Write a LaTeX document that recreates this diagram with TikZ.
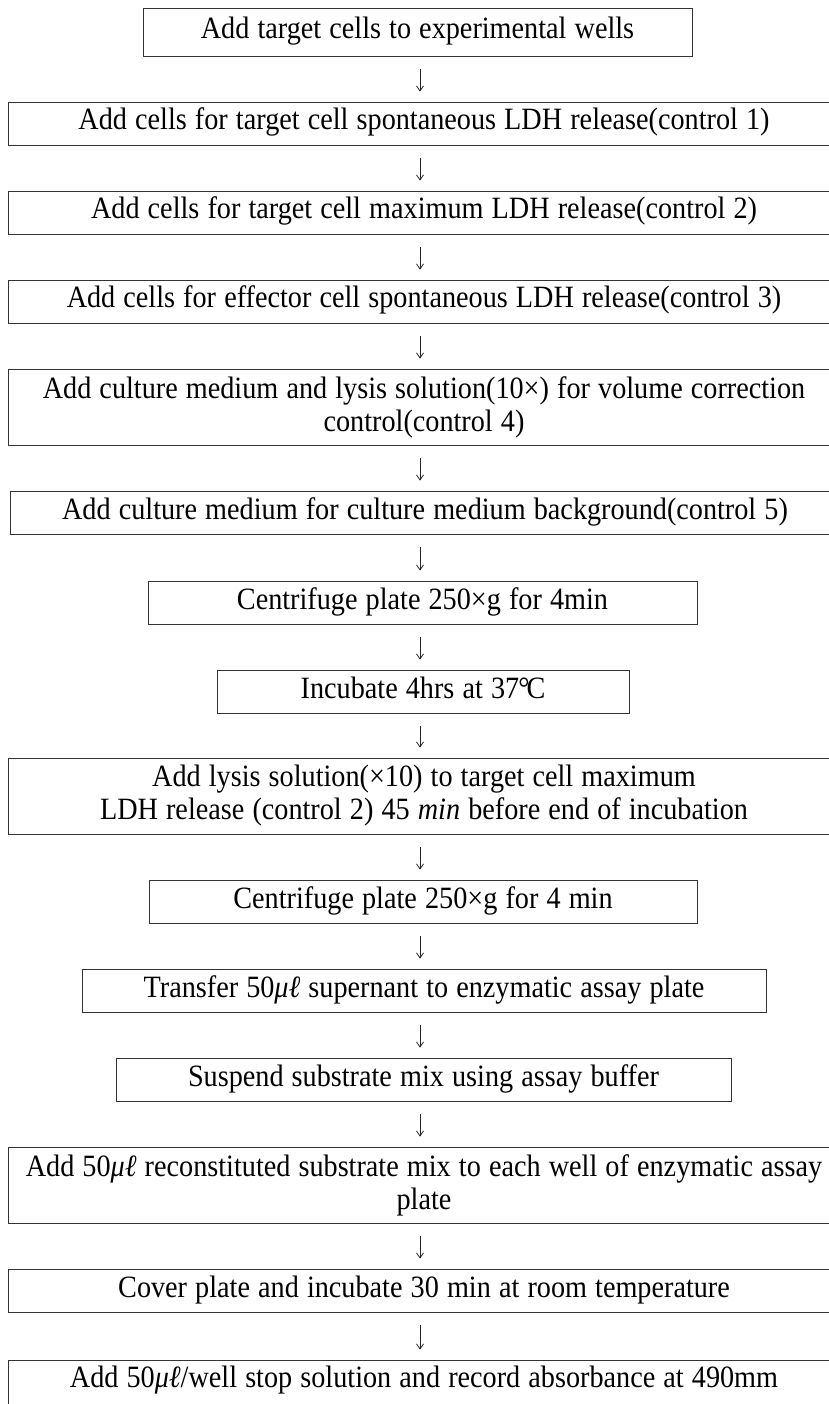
\documentclass[tikz,border=0pt]{standalone}
\usepackage{fontspec}
\setmainfont[FakeStretch=0.91,WordSpace=1.15]{Liberation Serif}
\usetikzlibrary{arrows.meta}
\tikzset{
  box/.style={draw=black!80, line width=0.8pt, inner sep=0pt, align=center,
    font=\fontsize{31}{33}\selectfont},
  one/.style={text height=21pt, text depth=8pt},
  flow/.style={draw=black!85, line width=0.8pt, -{Straight Barb[length=5pt,width=7pt]},
    shorten <=13pt, shorten >=10pt}
}
\begin{document}
\begin{tikzpicture}[x=1pt,y=-1pt]
\useasboundingbox (0,0) rectangle (828,1404);
\fill[white] (0,0) rectangle (828,1404);
\coordinate (ax) at (420,0);
\node[box,one,minimum width=549pt,minimum height=48pt] (b1) at (417.5,32) {Add target cells to experimental wells};
\node[box,one,minimum width=832pt,minimum height=43pt] (b2) at (424,123.5) {Add cells for target cell spontaneous LDH release(control 1)};
\node[box,one,minimum width=832pt,minimum height=43pt] (b3) at (424,212.5) {Add cells for target cell maximum LDH release(control 2)};
\node[box,one,minimum width=832pt,minimum height=43pt] (b4) at (424,301.5) {Add cells for effector cell spontaneous LDH release(control 3)};
\node[box,minimum width=832pt,minimum height=76pt] (b5) at (424,407) {Add culture medium and lysis solution(10×) for volume correction\\control(control 4)};
\node[box,one,minimum width=830pt,minimum height=43pt] (b6) at (425,512.5) {Add culture medium for culture medium background(control 5)};
\node[box,one,minimum width=549pt,minimum height=43pt] (b7) at (422.5,602.5) {Centrifuge plate 250×g for 4min};
\node[box,one,minimum width=412pt,minimum height=43pt] (b8) at (423,691.5) {Incubate 4hrs at 37\kern-1pt°\kern-3pt C};
\node[box,minimum width=832pt,minimum height=76pt] (b9) at (424,796) {Add lysis solution(×10) to target cell maximum\\LDH release (control 2) 45 \textit{min} before end of incubation};
\node[box,one,minimum width=548pt,minimum height=43pt] (b10) at (423,901.5) {Centrifuge plate 250×g for 4 min};
\node[box,one,minimum width=684pt,minimum height=43pt] (b11) at (424,990.5) {Transfer 50\textit{μℓ} supernant to enzymatic assay plate};
\node[box,one,minimum width=615pt,minimum height=43pt] (b12) at (423.5,1079.5) {Suspend substrate mix using assay buffer};
\node[box,minimum width=832pt,minimum height=76pt] (b13) at (424,1185) {Add 50\textit{μℓ} reconstituted substrate mix to each well of enzymatic assay\\plate};
\node[box,one,minimum width=832pt,minimum height=43pt] (b14) at (424,1290.5) {Cover plate and incubate 30 min at room temperature};
\node[box,text height=27pt,text depth=40pt,minimum width=832pt,anchor=base] (b15) at (424,1387) {Add 50\textit{μℓ}/well stop solution and record absorbance at 490mm};
\foreach \a/\b in {b1/b2,b2/b3,b3/b4,b4/b5,b5/b6,b6/b7,b7/b8,b8/b9,b9/b10,b10/b11,b11/b12,b12/b13,b13/b14,b14/b15}
  \draw[flow] (\a.south -| ax) -- (\b.north -| ax);
\end{tikzpicture}
\end{document}
